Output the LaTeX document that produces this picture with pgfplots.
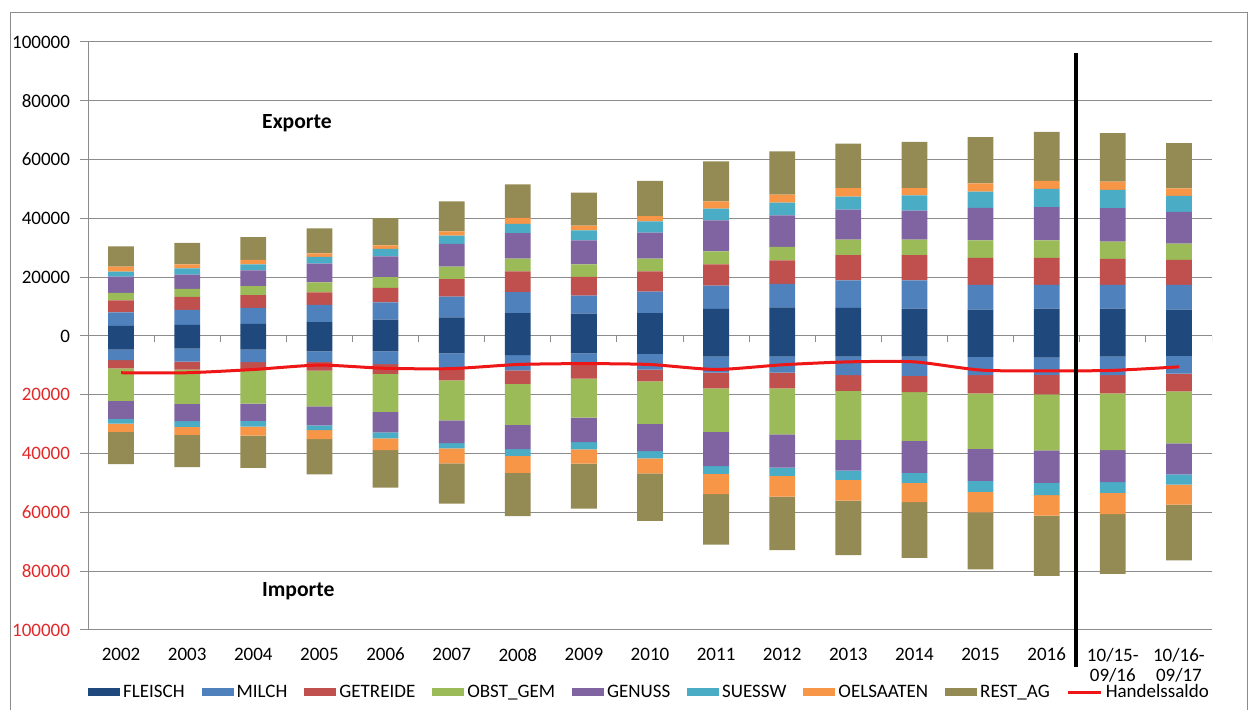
\documentclass[border=0pt]{standalone}
\usepackage{pgfplots}
\usepackage{pgfplotstable}
\pgfplotsset{compat=1.18}
\usepackage{fontspec}
\setmainfont{Carlito}

\definecolor{cFL}{HTML}{1F497D}
\definecolor{cMI}{HTML}{4F81BD}
\definecolor{cGE}{HTML}{C0504D}
\definecolor{cOB}{HTML}{9BBB59}
\definecolor{cGN}{HTML}{8064A2}
\definecolor{cSU}{HTML}{4BACC6}
\definecolor{cOE}{HTML}{F79646}
\definecolor{cRE}{HTML}{948A54}
\definecolor{cLine}{RGB}{238,22,22}
\definecolor{tickred}{RGB}{226,40,40}
\definecolor{gridgray}{HTML}{8C8C8C}

% Exporte (1000 t)
\pgfplotstableread{
i fl mi ge ob gn su oe re
0 3.4 4.6 4.1 2.6 5.5 1.7 1.7 6.9
1 3.8 5.1 4.4 2.7 4.9 2.1 1.4 7.3
2 4.1 5.5 4.3 3.1 5.3 2.1 1.5 7.7
3 4.7 5.9 4.2 3.4 6.4 2.3 1.2 8.5
4 5.6 5.8 5.0 3.6 7.1 2.5 1.2 9.3
5 6.3 7.1 5.9 4.3 7.7 2.8 1.5 10.2
6 7.8 7.1 7.1 4.3 8.7 3.1 2.1 11.4
7 7.6 6.1 6.4 4.3 8.1 3.4 1.6 11.3
8 7.8 7.3 6.9 4.3 8.9 3.8 1.8 12.0
9 9.2 7.9 7.3 4.4 10.5 4.0 2.5 13.6
10 9.7 8.0 8.0 4.6 10.7 4.4 2.7 14.7
11 9.6 9.3 8.6 5.3 10.2 4.4 2.9 15.1
12 9.3 9.6 8.6 5.3 9.8 5.2 2.5 15.7
13 9.0 8.4 9.2 5.9 11.1 5.5 2.8 15.7
14 9.3 8.1 9.2 5.9 11.3 6.2 2.8 16.6
15 9.3 8.1 8.8 5.9 11.4 6.2 2.8 16.5
16 9.0 8.4 8.5 5.5 10.8 5.5 2.5 15.4
}\exports

% Importe (1000 t, negativ)
\pgfplotstableread{
i fl mi ge ob gn su oe re
0 -4.6 -3.6 -2.8 -11.1 -6.1 -1.6 -2.8 -11.0
1 -4.3 -4.4 -2.7 -11.7 -5.9 -1.9 -2.7 -11.0
2 -4.6 -4.3 -2.7 -11.4 -5.9 -1.9 -3.1 -11.0
3 -5.2 -3.7 -2.9 -12.1 -6.5 -1.6 -3.1 -12.0
4 -5.2 -4.4 -3.3 -12.9 -7.0 -2.0 -4.0 -12.8
5 -5.9 -5.0 -4.2 -13.6 -7.7 -1.8 -5.1 -13.7
6 -6.5 -5.2 -4.6 -13.9 -8.3 -2.3 -5.8 -14.7
7 -5.9 -3.5 -5.1 -13.3 -8.3 -2.5 -4.8 -15.3
8 -6.1 -5.3 -4.0 -14.5 -9.3 -2.4 -5.1 -16.2
9 -7.0 -5.5 -5.3 -14.8 -11.7 -2.6 -6.9 -17.2
10 -7.0 -5.5 -5.3 -15.7 -11.3 -2.8 -7.0 -18.2
11 -7.0 -6.3 -5.4 -16.6 -10.5 -3.1 -7.1 -18.5
12 -7.0 -6.6 -5.5 -16.6 -10.9 -3.4 -6.5 -19.0
13 -7.1 -6.2 -6.2 -18.9 -10.9 -3.7 -7.0 -19.4
14 -7.4 -5.8 -6.7 -19.0 -11.1 -4.1 -7.0 -20.5
15 -7.0 -6.3 -6.2 -19.3 -10.9 -3.7 -7.2 -20.3
16 -6.8 -6.0 -6.0 -17.7 -10.6 -3.5 -6.8 -18.9
}\imports

% Handelssaldo
\pgfplotstableread{
i s
0 -12.5
1 -12.5
2 -11.4
3 -9.9
4 -11.0
5 -11.1
6 -9.7
7 -9.4
8 -9.7
9 -11.4
10 -9.8
11 -8.8
12 -8.8
13 -11.6
14 -11.9
15 -11.7
16 -10.5
}\saldo

\pgfplotsset{common/.style={scale only axis, width=562pt, height=294pt,
  at={(44pt,40pt)}, anchor=south west,
  xmin=-0.5, xmax=16.5, ymin=-100, ymax=100},
  barleg/.style={legend image code/.code={\fill[##1] (0pt,-2pt) rectangle (16pt,2pt);}},
  lineleg/.style={legend image code/.code={\draw[##1] (0pt,0pt) -- (16.5pt,0pt);}}}

\begin{document}
\begin{tikzpicture}
\useasboundingbox (0,0) rectangle (625pt,355pt);
\draw[gridgray, line width=0.5pt] (5pt,0) -- (5pt,348.5pt) -- (623.5pt,348.5pt) -- (623.5pt,0);

% axis 1: grid, ticks, exports, legend
\begin{axis}[common,
  ybar stacked, bar width=0.39,
  axis lines*=left, axis line style={-},
  x axis line style={draw=none},
  y axis line style={draw=gridgray, line width=0.5pt},
  xtick={0,...,16},
  xticklabels={2002,2003,2004,2005,2006,2007,2008,2009,2010,2011,2012,2013,2014,2015,2016,{10/15-\\09/16},{10/16-\\09/17}},
  xtick style={draw=none},
  ytick={-100,-80,...,100},
  yticklabels={\textcolor{tickred}{100000},\textcolor{tickred}{80000},\textcolor{tickred}{60000},\textcolor{tickred}{40000},\textcolor{tickred}{20000},0,20000,40000,60000,80000,100000},
  ytick style={draw=gridgray, line width=0.5pt},
  tick align=outside, major tick length=4pt,
  ymajorgrids, grid style={gridgray, line width=0.5pt},
  tick label style={font=\fontsize{9.5}{10}\selectfont},
  xticklabel style={align=center, yshift=-1.5pt},
  yticklabel style={xshift=-1.5pt},
  legend columns=-1,
  legend style={draw=none, fill=none, at={(0.5,-0.1063)}, anchor=center,
    font=\fontsize{9.5}{10}\selectfont,
    nodes={inner xsep=1.5pt},
    /tikz/every even column/.append style={column sep=7pt}},
  barleg,
]
\addplot[draw=none, fill=cFL] table[x=i, y=fl] {\exports};
\addplot[draw=none, fill=cMI] table[x=i, y=mi] {\exports};
\addplot[draw=none, fill=cGE] table[x=i, y=ge] {\exports};
\addplot[draw=none, fill=cOB] table[x=i, y=ob] {\exports};
\addplot[draw=none, fill=cGN] table[x=i, y=gn] {\exports};
\addplot[draw=none, fill=cSU] table[x=i, y=su] {\exports};
\addplot[draw=none, fill=cOE] table[x=i, y=oe] {\exports};
\addplot[draw=none, fill=cRE] table[x=i, y=re] {\exports};
\addlegendimage{lineleg, cLine, line width=1.5pt}
\legend{FLEISCH,MILCH,GETREIDE,OBST\_GEM,GENUSS,SUESSW,OELSAATEN,REST\_AG,Handelssaldo}
\pgfplotsinvokeforeach{0.5,1.5,...,16.5}{\draw[gridgray, line width=0.5pt] (axis cs:#1,0) -- ([yshift=-3pt]axis cs:#1,0);}
\end{axis}

% axis 2: imports
\begin{axis}[common, hide axis, ybar stacked, bar width=0.39]
\addplot[draw=none, fill=cFL] table[x=i, y=fl] {\imports};
\addplot[draw=none, fill=cMI] table[x=i, y=mi] {\imports};
\addplot[draw=none, fill=cGE] table[x=i, y=ge] {\imports};
\addplot[draw=none, fill=cOB] table[x=i, y=ob] {\imports};
\addplot[draw=none, fill=cGN] table[x=i, y=gn] {\imports};
\addplot[draw=none, fill=cSU] table[x=i, y=su] {\imports};
\addplot[draw=none, fill=cOE] table[x=i, y=oe] {\imports};
\addplot[draw=none, fill=cRE] table[x=i, y=re] {\imports};
\end{axis}

% axis 3: Handelssaldo, divider, labels
\begin{axis}[common, hide axis, clip=false]
\addplot[cLine, line width=1.5pt, smooth, tension=0.4, mark=none] table[x=i, y=s] {\saldo};
\draw[black, line width=2pt] (axis cs:14.45,96.3) -- ([yshift=-18.5pt]axis cs:14.45,-100);
\node[font=\bfseries\fontsize{10.8}{12}\selectfont] at (axis cs:2.66,72.4) {Exporte};
\node[font=\bfseries\fontsize{10.8}{12}\selectfont] at (axis cs:2.68,-86.7) {Importe};
\end{axis}
\end{tikzpicture}
\end{document}
